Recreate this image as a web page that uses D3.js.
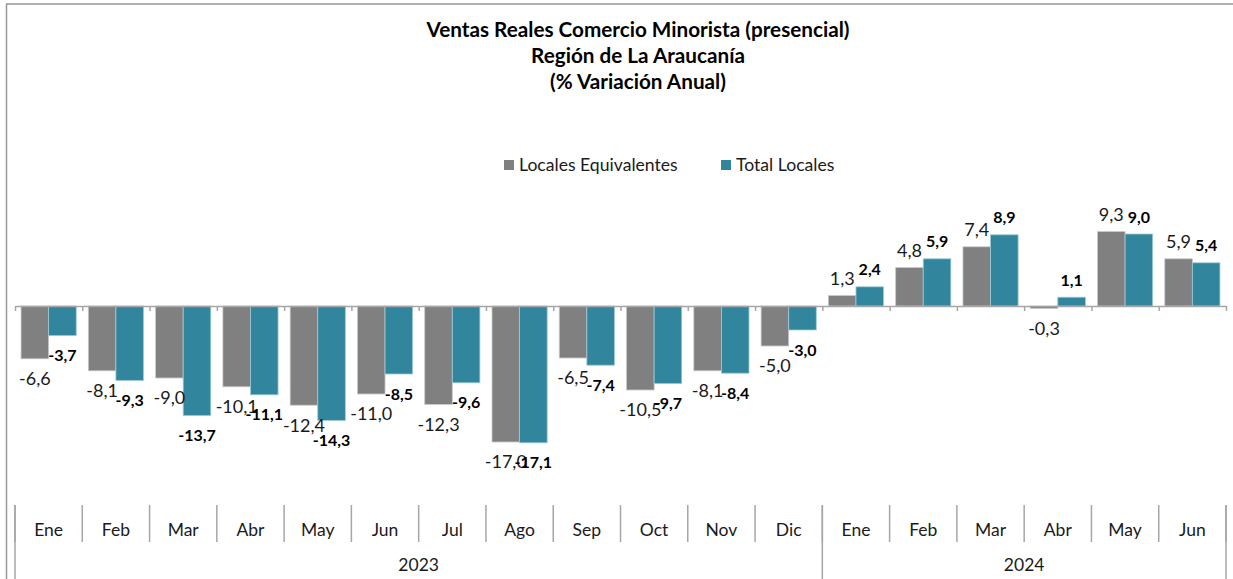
<!DOCTYPE html>
<html>
<head>
<meta charset="utf-8">
<script src="https://d3js.org/d3.v7.min.js"></script>
<style>
  body { margin: 0; background: #fff; }
  text { font-family: Lato, "Liberation Sans", sans-serif; }
</style>
</head>
<body>
<svg id="chart" width="1233" height="579"></svg>
<script>
 var meses = ["Ene","Feb","Mar","Abr","May","Jun","Jul","Ago","Sep","Oct","Nov","Dic",
              "Ene","Feb","Mar","Abr","May","Jun"];
 var anios = ["2023","2024"];
 var mesesPorAnio = [12, 6];
 var series = ["Locales Equivalentes", "Total Locales"];
 var equivalentes = [-6.6,-8.1,-9.0,-10.1,-12.4,-11.0,-12.3,-17.0,-6.5,-10.5,-8.1,-5.0,
                     1.3,4.8,7.4,-0.3,9.3,5.9];
 var totales = [-3.7,-9.3,-13.7,-11.1,-14.3,-8.5,-9.6,-17.1,-7.4,-9.7,-8.4,-3.0,
                2.4,5.9,8.9,1.1,9.0,5.4];
 var titulo = ["Ventas Reales Comercio Minorista (presencial)",
               "Región de La Araucanía",
               "(% Variación Anual)"];

 var colores = ["#808080", "#31859c"];
 var W = 1233, H = 579;
 var left = 15, right = 1226;

 var svg = d3.select("#chart");
 var loc = d3.formatLocale({decimal: ",", thousands: ".", grouping: [3], currency: ["$", ""], minus: "-"});
 var fmt = loc.format(".1f");

 // marco
 svg.append("line").attr("x1", 6).attr("x2", W).attr("y1", 4).attr("y2", 4)
    .attr("stroke", "#b0b0b0").attr("stroke-width", 2);
 svg.append("line").attr("x1", 6.5).attr("x2", 6.5).attr("y1", 4).attr("y2", H)
    .attr("stroke", "#999").attr("stroke-width", 1.5);

 // titulo
 svg.append("g").selectAll("text").data(titulo).enter().append("text")
    .attr("x", 638).attr("y", function(d, i) { return 37 + i * 26; })
    .attr("text-anchor", "middle")
    .attr("font-size", "20.7px").attr("font-weight", "bold").attr("fill", "#000")
    .text(function(d) { return d; });

 // escalas
 var x0 = d3.scaleBand().domain(d3.range(meses.length)).range([left, right]);
 var bw = x0.bandwidth();
 var x1 = d3.scaleBand().domain(series).range([bw * 0.09, bw * 0.91]);
 var y = d3.scaleLinear().domain([-20, 20]).range([466, 146]);

 var datos = meses.map(function(m, i) {
     return [{s: 0, v: equivalentes[i]}, {s: 1, v: totales[i]}];
 });

 // barras
 var grupos = svg.append("g").selectAll("g").data(datos).enter().append("g")
    .attr("transform", function(d, i) { return "translate(" + x0(i) + ",0)"; });
 grupos.selectAll("rect").data(function(d) { return d; }).enter().append("rect")
    .attr("x", function(d) { return x1(series[d.s]); })
    .attr("width", x1.bandwidth())
    .attr("y", function(d) { return y(Math.max(0, d.v)); })
    .attr("height", function(d) { return Math.abs(y(d.v) - y(0)); })
    .attr("fill", function(d) { return colores[d.s]; })
    .attr("stroke", function(d) { return d.s ? "#9fcad6" : "#c8c8c8"; })
    .attr("stroke-width", 0.8);

 // eje en cero
 var xi = d3.scaleLinear().domain([0, meses.length]).range([left, right]);
 var ejeCero = svg.append("g").attr("transform", "translate(0," + y(0) + ")")
    .call(d3.axisBottom(xi).tickValues(d3.range(meses.length + 1)).tickFormat("").tickSize(5).tickSizeOuter(0));
 ejeCero.select(".domain").attr("stroke", "#a6a6a6").attr("stroke-width", 1.5);
 ejeCero.selectAll(".tick line").attr("stroke", "#a6a6a6").attr("stroke-width", 1.5);

 // etiquetas de datos
 grupos.selectAll("text").data(function(d) { return d; }).enter().append("text")
    .attr("x", function(d) { return x1(series[d.s]) + x1.bandwidth() / 2; })
    .attr("y", function(d) { return d.v >= 0 ? y(d.v) - 17 : y(d.v) + 20; })
    .attr("dy", "0.35em")
    .attr("text-anchor", "middle")
    .attr("font-size", function(d) { return d.s ? "16px" : "18px"; })
    .attr("font-weight", function(d) { return d.s ? "bold" : "normal"; })
    .attr("fill", function(d) { return d.s ? "#000" : "#1a1a1a"; })
    .text(function(d) { return fmt(d.v); });

 // eje de categorias
 var ejeCat = svg.append("g");
 ejeCat.selectAll("line.mes").data(d3.range(meses.length + 1)).enter().append("line")
    .attr("class", "mes")
    .attr("x1", function(i) { return xi(i); }).attr("x2", function(i) { return xi(i); })
    .attr("y1", 505).attr("y2", 542)
    .attr("stroke", "#a6a6a6").attr("stroke-width", 1.5);
 var cortes = [0];
 mesesPorAnio.forEach(function(n) { cortes.push(cortes[cortes.length - 1] + n); });
 ejeCat.selectAll("line.anio").data(cortes).enter().append("line")
    .attr("class", "anio")
    .attr("x1", function(i) { return xi(i); }).attr("x2", function(i) { return xi(i); })
    .attr("y1", 505).attr("y2", H)
    .attr("stroke", "#a6a6a6").attr("stroke-width", 1.5);
 ejeCat.selectAll("text.mes").data(meses).enter().append("text")
    .attr("class", "mes")
    .attr("x", function(d, i) { return x0(i) + bw / 2; })
    .attr("y", 530).attr("dy", "0.35em")
    .attr("text-anchor", "middle").attr("font-size", "17.5px").attr("fill", "#1a1a1a")
    .text(function(d) { return d; });
 ejeCat.selectAll("text.anio").data(anios).enter().append("text")
    .attr("class", "anio")
    .attr("x", function(d, i) { return (xi(cortes[i]) + xi(cortes[i + 1])) / 2; })
    .attr("y", 565).attr("dy", "0.35em")
    .attr("text-anchor", "middle").attr("font-size", "17.5px").attr("fill", "#1a1a1a")
    .text(function(d) { return d; });

 // leyenda
 var legX = [504, 721];
 var leyenda = svg.append("g").selectAll("g").data(series).enter().append("g")
    .attr("transform", function(d, i) { return "translate(" + legX[i] + ",165)"; });
 leyenda.append("rect").attr("x", 0).attr("y", -5).attr("width", 10).attr("height", 10)
    .attr("fill", function(d, i) { return colores[i]; });
 leyenda.append("text").attr("x", 15).attr("dy", "0.35em")
    .attr("font-size", "17.6px").attr("fill", "#1a1a1a")
    .text(function(d) { return d; });
</script>
</body>
</html>
